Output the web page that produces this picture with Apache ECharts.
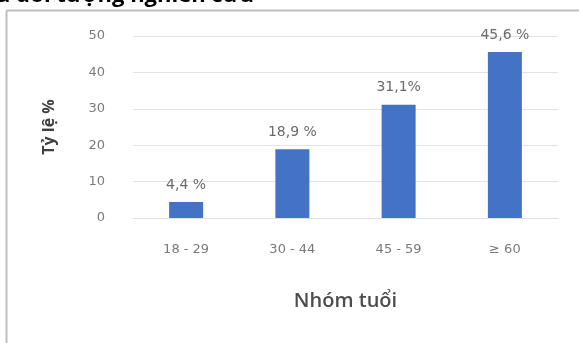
<!DOCTYPE html>
<html>
<head>
<meta charset="utf-8">
<script src="https://cdn.jsdelivr.net/npm/echarts@6/dist/echarts.min.js"></script>
<style>
html,body{margin:0;padding:0;background:#fff;}
#chart{width:579px;height:343px;}
</style>
</head>
<body>
<div id="chart"></div>
<script>
var categories = ['18 - 29', '30 - 44', '45 - 59', '\u2265 60'];
var values = [4.4, 18.9, 31.1, 45.6];
var valueLabels = ['4,4 %', '18,9 %', '31,1%', '45,6 %'];
var yTicks = [0, 10, 20, 30, 40, 50];
var titleText = 'a \u0111\u1ed1i t\u01b0\u1ee3ng nghi\u00ean c\u1ee9u';

var chart = echarts.init(document.getElementById('chart'));
chart.setOption({
  backgroundColor: '#ffffff',
  animation: false,
  grid: {left: 133, right: 21, top: 36, bottom: 125},
  xAxis: {
    type: 'category',
    data: categories,
    name: 'Nh\u00f3m tu\u1ed5i',
    nameLocation: 'middle',
    nameGap: 73,
    nameTextStyle: {color: '#4d4d4d', fontSize: 20, fontWeight: 600, fontFamily: 'Open Sans'},
    axisLine: {show: true, lineStyle: {color: '#e0e0e0'}},
    axisTick: {show: false},
    axisLabel: {color: '#7a7a7a', fontSize: 13, margin: 25, fontFamily: 'DejaVu Sans'}
  },
  yAxis: {
    type: 'value',
    min: yTicks[0],
    max: yTicks[yTicks.length - 1],
    interval: 10,
    name: 'T\u1ef7 l\u1ec7 %',
    nameLocation: 'middle',
    nameGap: 76,
    nameRotate: 90,
    nameTextStyle: {color: '#404040', fontSize: 16, fontWeight: 'bold', fontFamily: 'Open Sans'},
    axisLine: {show: false},
    axisTick: {show: false},
    axisLabel: {color: '#7a7a7a', fontSize: 13, margin: 28, fontFamily: 'DejaVu Sans'},
    splitLine: {lineStyle: {color: '#e3e3e3'}}
  },
  series: [{
    type: 'bar',
    data: values,
    barWidth: 34,
    itemStyle: {color: '#4472c4'},
    label: {
      show: true,
      position: 'top',
      distance: 10,
      color: '#6b6b6b',
      fontSize: 14,
      fontFamily: 'DejaVu Sans',
      formatter: function (p) { return valueLabels[p.dataIndex]; }
    }
  }],
  graphic: [
    {type: 'line', shape: {x1: 6.5, y1: 10.5, x2: 579, y2: 10.5}, style: {stroke: '#bfbfbf', lineWidth: 2}, z: 10},
    {type: 'line', shape: {x1: 6.5, y1: 10.5, x2: 6.5, y2: 343}, style: {stroke: '#bfbfbf', lineWidth: 2}, z: 10},
    {type: 'text', left: -3, top: -15, style: {text: titleText, fill: '#000000', font: 'bold 22px "Open Sans"'}, z: 10}
  ]
});
</script>
</body>
</html>
